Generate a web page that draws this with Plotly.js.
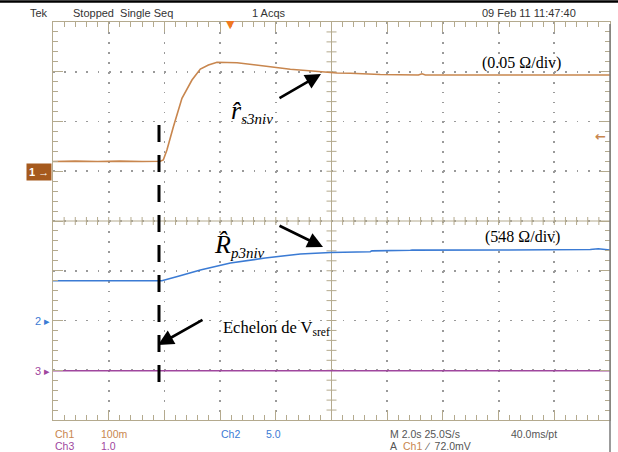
<!DOCTYPE html>
<html><head><meta charset="utf-8">
<script src="https://cdn.plot.ly/plotly-3.0.1.min.js"></script>
<style>html,body{margin:0;padding:0;background:#fff}#chart{width:618px;height:452px}</style>
</head><body><div id="chart"></div>
<script>
// Time axis in seconds (M 2.0 s/div, 10 div); vertical axis in screen divisions (8 div, centre = 0)
const ch1Time = [0, 0.8, 1.6, 2.4, 3.2, 3.85, 3.96, 4.09, 4.32, 4.63, 4.99, 5.29, 5.58, 5.89, 6.61, 7.08, 7.80, 8.52, 9.24, 9.71, 10.20, 10.68, 11.75, 13.12, 13.25, 13.37, 14.27, 16.06, 17.86, 20];
const ch1Div  = [1.196, 1.204, 1.196, 1.204, 1.196, 1.20, 1.226, 1.427, 1.889, 2.466, 2.834, 3.055, 3.136, 3.19, 3.182, 3.156, 3.102, 3.049, 3.015, 2.989, 2.975, 2.969, 2.945, 2.935, 2.96, 2.935, 2.935, 2.935, 2.935, 2.935];
const ch2Time = [0, 3.91, 4.5, 5.29, 6.37, 7.62, 8.88, 9.96, 11.39, 11.45, 12.83, 12.9, 16.06, 19.29, 19.58, 19.83, 20];
const ch2Div  = [-1.2, -1.2, -1.11, -0.985, -0.844, -0.744, -0.663, -0.633, -0.617, -0.600, -0.589, -0.585, -0.583, -0.573, -0.557, -0.569, -0.583];
const ch3Time = [0, 20];
const ch3Div  = [-3.01, -3.01];

const headerTexts = ["Tek", "Stopped  Single Seq", "1 Acqs", "09 Feb 11 11:47:40"];
const footerRow1 = ["Ch1", "100m", "Ch2", "5.0", "M 2.0s 25.0S/s", "40.0ms/pt"];
const footerRow2 = ["Ch3", "1.0", "A", "Ch1", "\u2215  72.0mV"];
const scaleLabels = ["(0.05 \u03A9/div)", "(548 \u03A9/div)"];
const stepLabel = "Echelon de V<sub>sref</sub>";

const ORANGE = '#c8864e', BLUE = '#3b7bd4', MAGENTA = '#a0479e';
const TAN = '#b4aa8e', GRID = '#9a9a9a';
const SANS = 'Liberation Sans Narrow, Arial Narrow, Liberation Sans, Arial, sans-serif';
const SERIF = 'Liberation Serif, Times New Roman, serif';

// pixel helpers for layout decoration placement
const L = 53, R = 8, TOP = 22, B = 32, W = 618 - L - R, H = 452 - TOP - B;
const T = px => (px - L) / W * 20;
const D = py => (221 - py) / (H / 8);
const PX = px => (px - L) / W;
const PY = py => (420 - py) / H;

const traces = [
  {x: ch1Time, y: ch1Div, mode: 'lines', line: {color: ORANGE, width: 1.6}, hoverinfo: 'skip'},
  {x: ch2Time, y: ch2Div, mode: 'lines', line: {color: BLUE, width: 1.6}, hoverinfo: 'skip'},
  {x: ch3Time, y: ch3Div, mode: 'lines', line: {color: MAGENTA, width: 1.6}, hoverinfo: 'skip'},
  {x: [], y: [], xaxis: 'x2', yaxis: 'y2', mode: 'lines', hoverinfo: 'skip'}
];

const shapes = [];
// centre crosshair
shapes.push({type: 'line', xref: 'x', yref: 'y', x0: 10, x1: 10, y0: -4, y1: 4, line: {color: TAN, width: 1}, layer: 'between'});
shapes.push({type: 'line', xref: 'x', yref: 'y', x0: 0, x1: 20, y0: 0, y1: 0, line: {color: TAN, width: 1}, layer: 'between'});
for (let k = 1; k < 50; k++) {
  shapes.push({type: 'line', xref: 'x', yref: 'y', x0: k * 0.4, x1: k * 0.4, ysizemode: 'pixel', yanchor: 0, y0: -4, y1: 4, line: {color: TAN, width: 1}, layer: 'between'});
}
for (let k = -19; k < 20; k++) {
  if (k === 0) continue;
  shapes.push({type: 'line', xref: 'x', yref: 'y', y0: k * 0.2, y1: k * 0.2, xsizemode: 'pixel', xanchor: 10, x0: -5, x1: 5, line: {color: TAN, width: 1}, layer: 'between'});
}
// dashed step marker
shapes.push({type: 'line', xref: 'x', yref: 'y', x0: T(159), x1: T(159), y0: D(125), y1: D(393), line: {color: '#000', width: 3, dash: '17px,13px'}});
// top black rule and right frame
shapes.push({type: 'line', xref: 'paper', yref: 'paper', x0: PX(0), x1: PX(618), y0: PY(1.5), y1: PY(1.5), line: {color: '#000', width: 2.5}});
shapes.push({type: 'line', xref: 'paper', yref: 'paper', x0: 1, x1: 1, y0: PY(24), y1: PY(452), line: {color: '#7a7a7a', width: 1.5}});

const ann = [];
const hdrX = [28, 71, 250, 480];
headerTexts.forEach((t, i) => ann.push({xref: 'paper', yref: 'paper', x: PX(hdrX[i]), y: PY(13), xanchor: 'left', yanchor: 'middle', text: t, showarrow: false, font: {family: SANS, size: 11, color: '#333'}}));
const f1X = [53, 99, 219, 264, 388, 509];
const f1C = [ORANGE, ORANGE, BLUE, BLUE, '#555', '#555'];
footerRow1.forEach((t, i) => ann.push({xref: 'paper', yref: 'paper', x: PX(f1X[i]), y: PY(434), xanchor: 'left', yanchor: 'middle', text: t, showarrow: false, font: {family: SANS, size: 10.5, color: f1C[i]}}));
const f2X = [53, 99, 388, 401, 422];
const f2C = [MAGENTA, MAGENTA, '#555', ORANGE, '#555'];
footerRow2.forEach((t, i) => ann.push({xref: 'paper', yref: 'paper', x: PX(f2X[i]), y: PY(446), xanchor: 'left', yanchor: 'middle', text: t, showarrow: false, font: {family: SANS, size: 10.5, color: f2C[i]}}));

// channel markers
ann.push({xref: 'paper', yref: 'y', x: PX(52), y: D(171.5), xanchor: 'right', yanchor: 'middle', text: '<b>1</b> \u2192', showarrow: false, bgcolor: '#a65a1e', borderpad: 2, font: {family: SANS, size: 11, color: '#fff'}});
ann.push({xref: 'paper', yref: 'y', x: PX(52), y: D(321), xanchor: 'right', yanchor: 'middle', text: '2 \u25B8', showarrow: false, font: {family: SANS, size: 11, color: BLUE}});
ann.push({xref: 'paper', yref: 'y', x: PX(52), y: D(371), xanchor: 'right', yanchor: 'middle', text: '3 \u25B8', showarrow: false, font: {family: SANS, size: 11, color: MAGENTA}});
ann.push({xref: 'x', yref: 'y', x: T(600), y: D(136), xanchor: 'center', yanchor: 'middle', text: '<b>\u2190</b>', showarrow: false, font: {family: 'DejaVu Sans', size: 13, color: ORANGE}});
// trigger position marker
ann.push({xref: 'x', yref: 'paper', x: T(230), y: PY(24.5), xanchor: 'center', yanchor: 'middle', text: '\u25BC', showarrow: false, font: {family: 'DejaVu Sans', size: 11, color: '#f07820'}});

// scale labels
ann.push({xref: 'x', yref: 'y', x: T(521), y: D(63), xanchor: 'center', yanchor: 'middle', text: scaleLabels[0], showarrow: false, font: {family: SERIF, size: 16, color: '#000'}});
ann.push({xref: 'x', yref: 'y', x: T(522), y: D(237), xanchor: 'center', yanchor: 'middle', text: scaleLabels[1], showarrow: false, font: {family: SERIF, size: 16, color: '#000'}});
ann.push({xref: 'x', yref: 'y', x: T(221), y: D(328), xanchor: 'left', yanchor: 'middle', text: stepLabel, showarrow: false, font: {family: SERIF, size: 16.5, color: '#000'}});
// estimator labels (main symbol with smaller italic subscript)
ann.push({xref: 'x', yref: 'y', x: T(229), y: D(111), xanchor: 'left', yanchor: 'middle', text: '<i>r\u0302</i><sub><span style="font-size:15px"><i>s3niv</i></span></sub>', showarrow: false, font: {family: SERIF, size: 26, color: '#000'}});
ann.push({xref: 'x', yref: 'y', x: T(212), y: D(245), xanchor: 'left', yanchor: 'middle', text: '<i>R\u0302</i><sub><span style="font-size:15px"><i>p3niv</i></span></sub>', showarrow: false, font: {family: SERIF, size: 26, color: '#000'}});
// arrows
const arrows = [[278, 99, 321, 74], [278, 225, 323, 247], [204, 319, 158, 345]];
arrows.forEach(a => ann.push({xref: 'x', yref: 'y', axref: 'x', ayref: 'y', ax: T(a[0]), ay: D(a[1]), x: T(a[2]), y: D(a[3]), text: '', showarrow: true, arrowhead: 2, arrowsize: 1.2, arrowwidth: 2.6, arrowcolor: '#000', standoff: 0, startstandoff: 0}));

const axisCommon = {
  showline: true, linecolor: TAN, linewidth: 1,
  ticks: 'inside', ticklen: 10, tickcolor: TAN, tickwidth: 1,
  showticklabels: false, zeroline: false, fixedrange: true
};
const xMinor = {dtick: 0.4, tick0: 0, ticks: 'inside', ticklen: 5, tickcolor: TAN, showgrid: false};
const yMinor = {dtick: 0.2, tick0: 0, ticks: 'inside', ticklen: 5, tickcolor: TAN, showgrid: false};
const layout = {
  width: 618, height: 452,
  margin: {l: L, r: R, t: TOP, b: B, pad: 0},
  paper_bgcolor: '#fff', plot_bgcolor: '#fff',
  showlegend: false,
  xaxis: Object.assign({}, axisCommon, {range: [0, 20], dtick: 2, tick0: 0, showgrid: true, gridcolor: GRID, gridwidth: 1.8, griddash: '1.8px,8.15px', minor: xMinor}),
  yaxis: Object.assign({}, axisCommon, {range: [-4, 4], dtick: 1, tick0: 0, showgrid: true, gridcolor: GRID, gridwidth: 1.8, griddash: '1.8px,9.34px', minor: yMinor}),
  xaxis2: Object.assign({}, axisCommon, {range: [0, 20], dtick: 2, tick0: 0, overlaying: 'x', side: 'top', anchor: 'y2', showgrid: false, minor: xMinor}),
  yaxis2: Object.assign({}, axisCommon, {range: [-4, 4], dtick: 1, tick0: 0, overlaying: 'y', side: 'right', anchor: 'x2', showgrid: false, minor: yMinor}),
  shapes: shapes,
  annotations: ann
};
Plotly.newPlot('chart', traces, layout, {staticPlot: true, displayModeBar: false});
</script>
</body></html>
